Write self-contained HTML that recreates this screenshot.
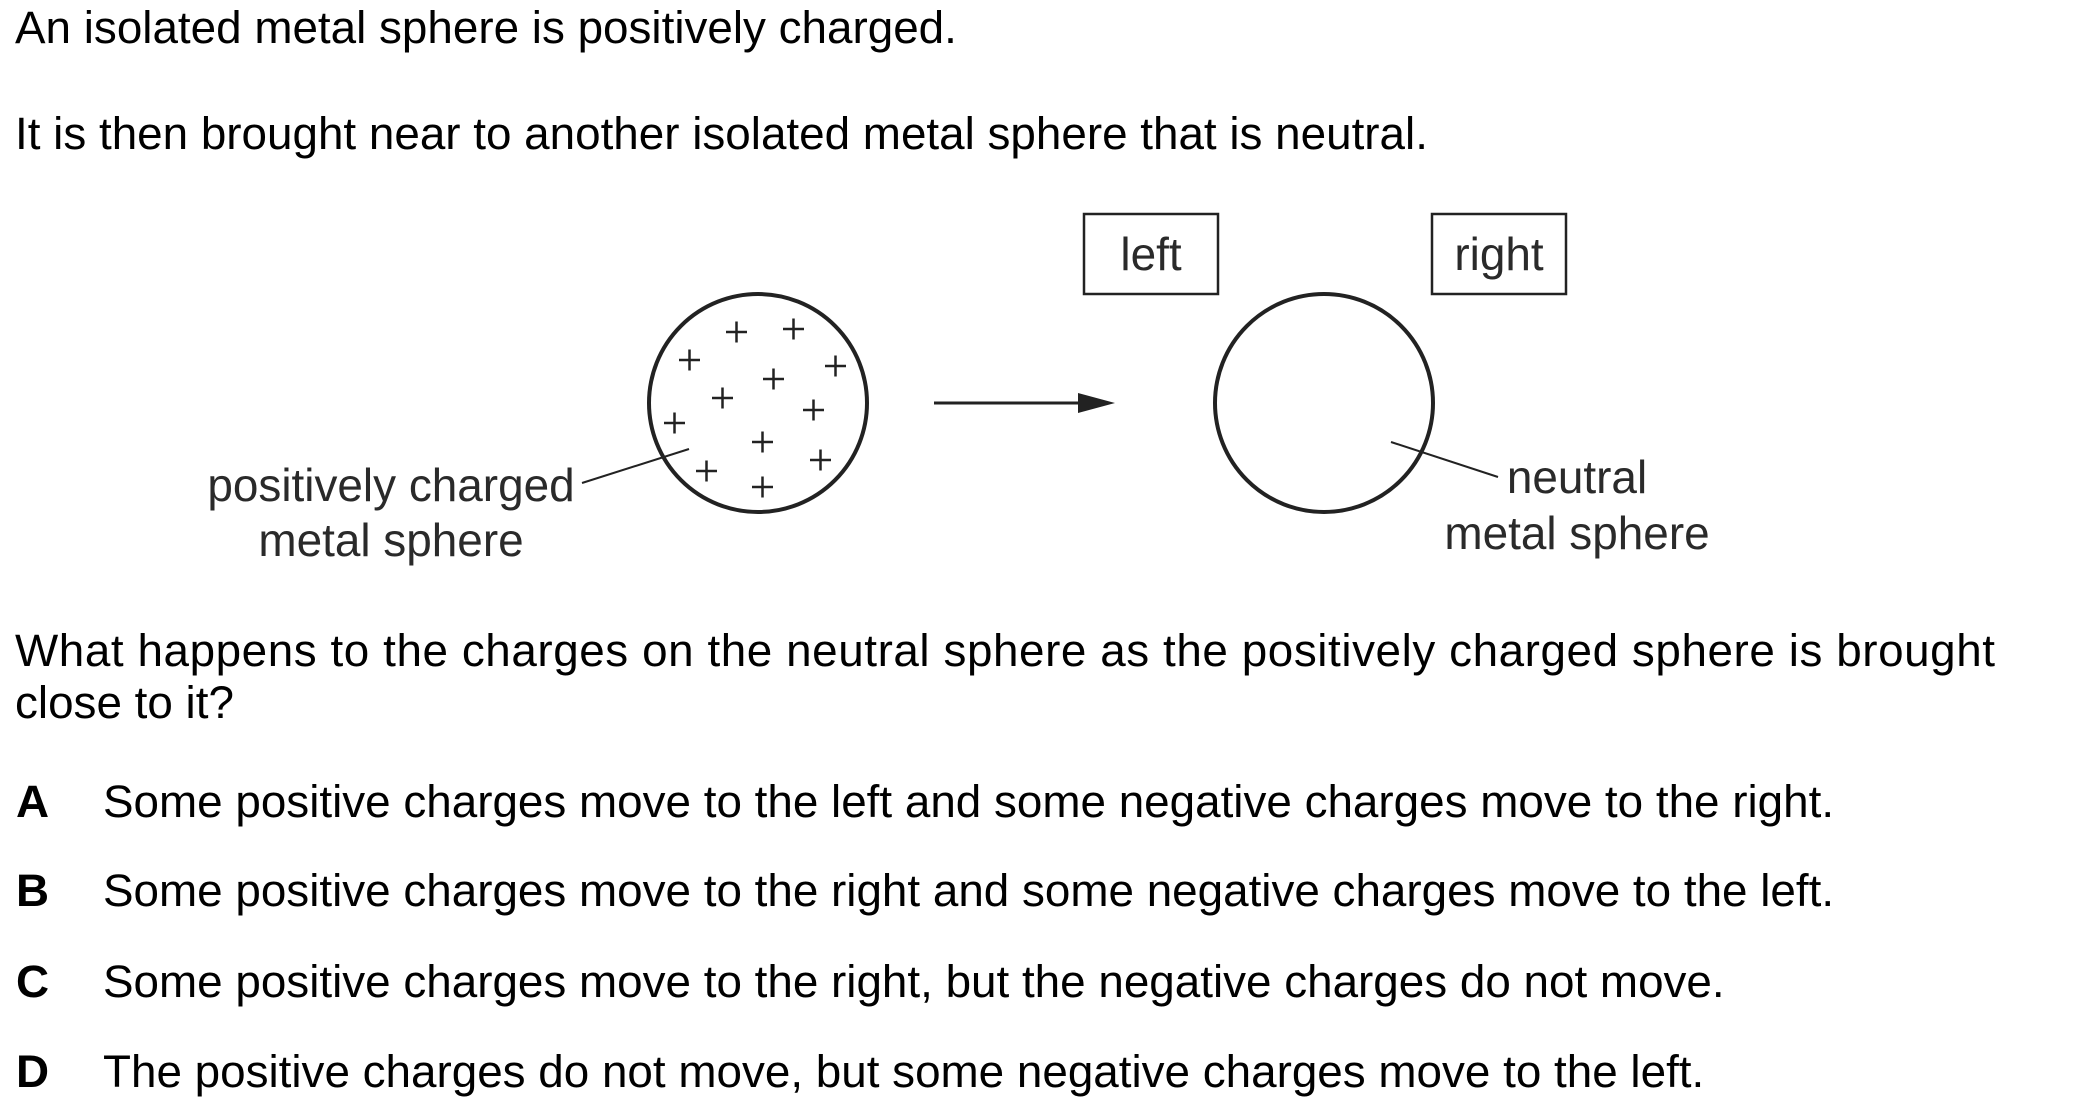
<!DOCTYPE html>
<html>
<head>
<meta charset="utf-8">
<style>
  html, body { margin:0; padding:0; background:#fff; }
  body { width:2100px; height:1108px; overflow:hidden; }
  svg { display:block; }
  .t { font-family:"Liberation Sans", Arial, sans-serif; font-size:45.8px; fill:#000; }
  .b { font-weight:bold; }
  .lbl { font-family:"Liberation Sans", Arial, sans-serif; font-size:45.9px; fill:#2a2a2a; }
</style>
</head>
<body>
<svg width="2100" height="1108" viewBox="0 0 2100 1108" xmlns="http://www.w3.org/2000/svg">
  <!-- Body text -->
  <text class="t" x="15" y="43">An isolated metal sphere is positively charged.</text>
  <text class="t" x="15" y="149">It is then brought near to another isolated metal sphere that is neutral.</text>

  <!-- Diagram -->
  <g stroke="#222" fill="none">
    <!-- positively charged sphere -->
    <circle cx="758" cy="403" r="109" stroke-width="4"/>
    <!-- plus signs -->
    <g stroke-width="2.5">
      <path d="M726 332h21M736.5 321.5v21"/>
      <path d="M783 329h21M793.5 318.5v21"/>
      <path d="M679 360h21M689.5 349.5v21"/>
      <path d="M825 366h21M835.5 355.5v21"/>
      <path d="M763 379h21M773.5 368.5v21"/>
      <path d="M712 398h21M722.5 387.5v21"/>
      <path d="M803 410h21M813.5 399.5v21"/>
      <path d="M664 423h21M674.5 412.5v21"/>
      <path d="M752 442h21M762.5 431.5v21"/>
      <path d="M810 460h21M820.5 449.5v21"/>
      <path d="M696 471h21M706.5 460.5v21"/>
      <path d="M752 487h21M762.5 476.5v21"/>
    </g>
    <!-- leader line left -->
    <line x1="582" y1="483" x2="689" y2="449" stroke-width="2"/>

    <!-- arrow -->
    <line x1="934" y1="403" x2="1082" y2="403" stroke-width="3"/>

    <!-- neutral sphere -->
    <circle cx="1324" cy="403" r="109" stroke-width="4"/>
    <!-- leader line right -->
    <line x1="1391" y1="442" x2="1498" y2="477" stroke-width="2"/>

    <!-- boxes -->
    <rect x="1084" y="214" width="134" height="80" stroke-width="2.5"/>
    <rect x="1432" y="214" width="134" height="80" stroke-width="2.5"/>
  </g>
  <polygon points="1078,393 1115,403 1078,413" fill="#222"/>

  <text class="lbl" x="1151" y="270" text-anchor="middle">left</text>
  <text class="lbl" x="1499" y="270" text-anchor="middle">right</text>
  <text class="lbl" x="391" y="501" text-anchor="middle">positively charged</text>
  <text class="lbl" x="391" y="556" text-anchor="middle">metal sphere</text>
  <text class="lbl" x="1577" y="493" text-anchor="middle">neutral</text>
  <text class="lbl" x="1577" y="549" text-anchor="middle">metal sphere</text>

  <!-- Question -->
  <text class="t" x="15" y="666" textLength="1980" lengthAdjust="spacing">What happens to the charges on the neutral sphere as the positively charged sphere is brought</text>
  <text class="t" x="15" y="718">close to it?</text>

  <!-- Options -->
  <text class="t b" x="16" y="817">A</text>
  <text class="t" x="103" y="817">Some positive charges move to the left and some negative charges move to the right.</text>
  <text class="t b" x="16" y="906">B</text>
  <text class="t" x="103" y="906">Some positive charges move to the right and some negative charges move to the left.</text>
  <text class="t b" x="16" y="997">C</text>
  <text class="t" x="103" y="997">Some positive charges move to the right, but the negative charges do not move.</text>
  <text class="t b" x="16" y="1087">D</text>
  <text class="t" x="103" y="1087">The positive charges do not move, but some negative charges move to the left.</text>
</svg>
</body>
</html>
